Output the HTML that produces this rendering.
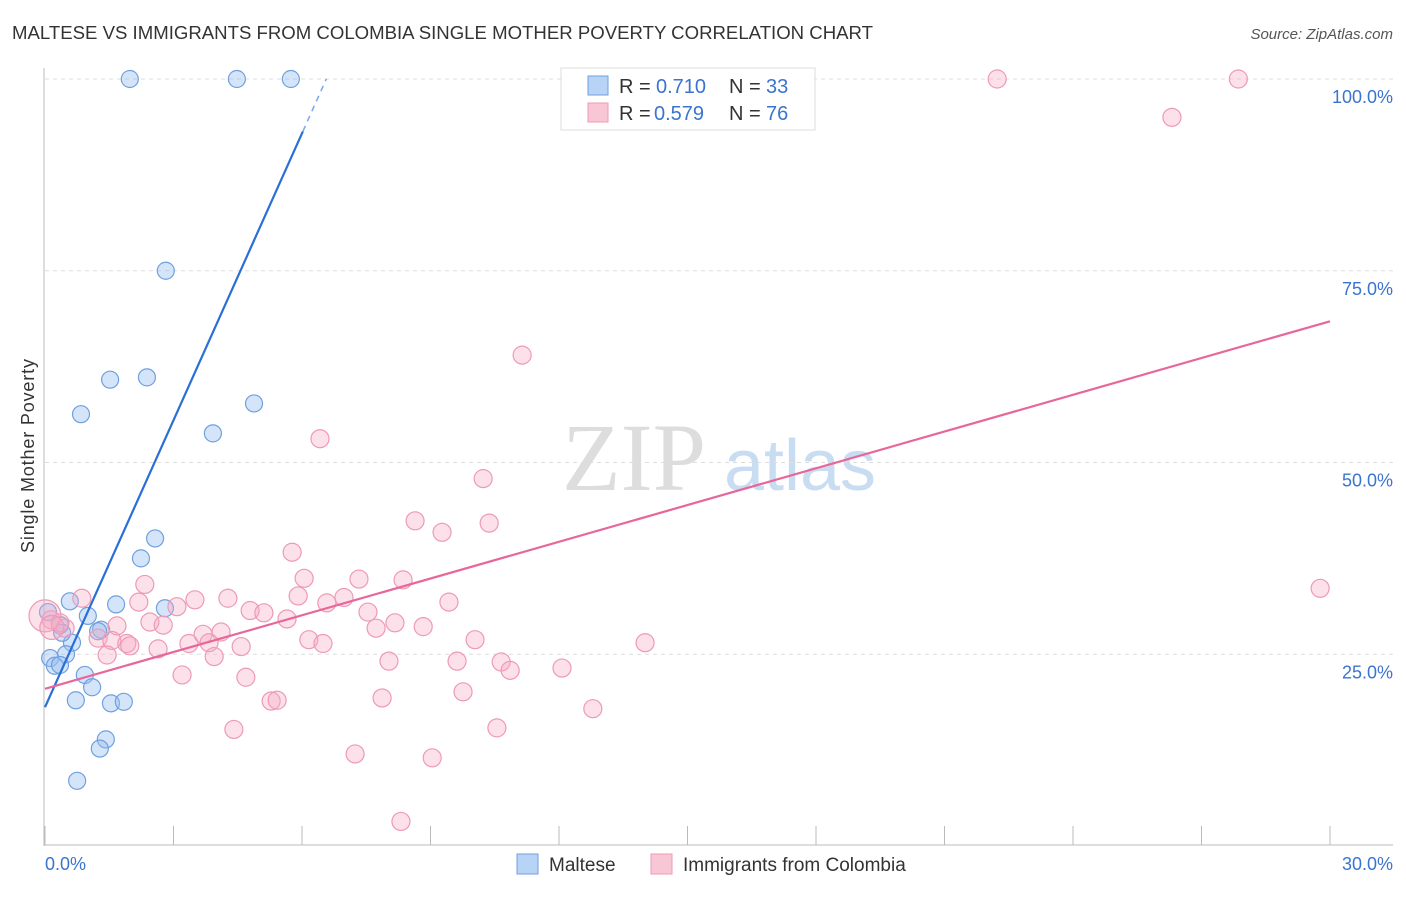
<!DOCTYPE html>
<html><head><meta charset="utf-8"><style>
body{margin:0;background:#fff;font-family:"Liberation Sans",sans-serif;}
</style></head><body>
<svg id="chart" width="1406" height="892" xmlns="http://www.w3.org/2000/svg" style="font-family:'Liberation Sans',sans-serif">
<text x="12" y="39" font-size="18" fill="#333" textLength="861" lengthAdjust="spacingAndGlyphs">MALTESE VS IMMIGRANTS FROM COLOMBIA SINGLE MOTHER POVERTY CORRELATION CHART</text>
<text x="1393" y="39" font-size="15" fill="#555" font-style="italic" text-anchor="end">Source: ZipAtlas.com</text>
<text x="34" y="456" font-size="18" fill="#333" text-anchor="middle" transform="rotate(-90 34 456)" textLength="194">Single Mother Poverty</text>
<g>
<text x="634" y="490" font-size="96" fill="#ddd" font-family="Liberation Serif,serif" text-anchor="middle">ZIP</text>
<text x="800" y="490" font-size="72" fill="#c8dcf2" text-anchor="middle">atlas</text>
</g>
<g id="grid"></g>
<g id="axes"></g>
<g id="marks"></g>
<g>
<rect x="561" y="68" width="254" height="62" fill="#fff" stroke="#ddd"/>
<rect x="588" y="76" width="20" height="19" fill="#b8d3f5" stroke="#6fa0e0"/>
<rect x="588" y="103" width="20" height="19" fill="#f9c6d5" stroke="#ef9ab3"/>
<text x="619" y="93" font-size="20" fill="#333">R =</text>
<text x="656" y="93" font-size="20" fill="#3a74d0">0.710</text>
<text x="729" y="93" font-size="20" fill="#333">N =</text>
<text x="766" y="93" font-size="20" fill="#3a74d0">33</text>
<text x="619" y="120" font-size="20" fill="#333">R =</text>
<text x="654" y="120" font-size="20" fill="#3a74d0">0.579</text>
<text x="729" y="120" font-size="20" fill="#333">N =</text>
<text x="766" y="120" font-size="20" fill="#3a74d0">76</text>
</g>
<g>
<rect x="517" y="854" width="21" height="20" fill="#b8d3f5" stroke="#6fa0e0"/>
<text x="549" y="871" font-size="19" fill="#333">Maltese</text>
<rect x="651" y="854" width="21" height="20" fill="#f9c6d5" stroke="#ef9ab3"/>
<text x="683" y="871" font-size="19" fill="#333">Immigrants from Colombia</text>
</g>
</svg>
<script>
const xTicks=[0,3,6,9,12,15,18,21,24,27,30];
const yTicks=[25,50,75,100];
const yTickLabels=["25.0%","50.0%","75.0%","100.0%"];
const xTickLabels=["0.0%","30.0%"];
const blueX=[1.98,4.48,5.74,2.82,1.52,2.38,0.84,4.88,3.92,2.57,2.24,0.58,1.66,2.80,1.00,1.31,0.35,1.24,0.63,0.49,0.12,0.23,0.35,0.93,1.10,0.72,1.54,1.84,1.42,1.28,0.75,0.07,0.40];
const blueY=[100,100,100,75.0,60.8,61.1,56.3,57.7,53.8,40.1,37.5,31.9,31.5,31.0,30.0,28.2,28.8,28.0,26.5,25.0,24.5,23.5,23.6,22.3,20.7,19.0,18.6,18.8,13.9,12.7,8.5,30.5,27.8];
const pinkX=[22.23,27.86,26.31,11.14,6.42,10.23,8.64,10.37,9.27,5.77,29.77,2.33,6.05,7.33,8.36,0.86,2.19,3.50,4.27,5.91,6.58,6.98,9.43,3.08,4.79,5.11,7.54,2.45,2.76,1.68,0.14,0.47,0.35,5.65,8.17,8.83,7.73,3.69,4.11,1.24,1.56,1.91,1.98,2.64,3.36,4.58,6.16,6.49,10.04,14.01,3.83,1.45,3.95,8.03,9.62,10.65,10.86,12.07,3.20,4.69,5.28,5.42,7.87,9.76,12.79,4.41,10.55,7.24,9.04,8.31,0.0,0.16];
const pinkY=[100,100,95.0,64.0,53.1,47.9,42.4,42.1,40.9,38.3,33.6,34.1,34.9,34.8,34.7,32.3,31.8,32.1,32.3,32.6,31.7,32.4,31.8,31.2,30.7,30.4,30.5,29.2,28.8,28.7,29.5,28.4,29.1,29.6,29.1,28.6,28.4,27.6,27.9,27.1,26.8,26.4,26.1,25.7,26.4,26.0,26.9,26.4,26.9,26.5,26.5,24.9,24.7,24.1,24.1,24.0,22.9,23.2,22.3,22.0,18.9,19.0,19.3,20.1,17.9,15.2,15.4,12.0,11.5,3.2,30.0,28.5];
const pinkR=pinkX.map((v,i)=>i>=70?(i==70?16:12):9);
const blueTrend=[18.1,12.47,6.02,6.57];
const pinkTrend=[20.5,1.597,30];
const X=v=>45+v/30*1285, Y=v=>846-v/100*767;
const NS="http://www.w3.org/2000/svg";
function mk(parent,tag,attrs){const e=document.createElementNS(NS,tag);for(const k in attrs)e.setAttribute(k,attrs[k]);document.getElementById(parent).appendChild(e);return e;}
yTicks.forEach((t,i)=>{
 let l=mk('grid','line',{x1:45,x2:1393,y1:Y(t),y2:Y(t),stroke:'#ddd','stroke-dasharray':'4,4'});
 
 
 let tx=mk('grid','text',{x:1393,y:Y(t)+24,'font-size':18,fill:'#3a74d0','text-anchor':'end'});
 tx.textContent=yTickLabels[i];
 
 
});
let a1=mk('axes','line',{x1:44,x2:44,y1:68,y2:846,stroke:'#bbb'});


let a2=mk('axes','line',{x1:44,x2:1393,y1:845,y2:845,stroke:'#bbb'});


xTicks.forEach(t=>{
 let l=mk('axes','line',{x1:X(t),x2:X(t),y1:826,y2:845,stroke:'#bbb'});
 
 
});
[[0,'start',45],[30,'end',1393]].forEach((d,i)=>{
 let tx=mk('axes','text',{x:d[2],y:870,'font-size':18,fill:'#3a74d0','text-anchor':d[1]});
 tx.textContent=xTickLabels[i];
 
 
});
blueX.forEach((v,i)=>{
 let c=mk('marks','circle',{cx:X(v),cy:Y(blueY[i]),r:8.5,fill:'rgba(150,190,240,0.4)',stroke:'#6fa0e0','stroke-width':1.2});
 
 
});
pinkX.forEach((v,i)=>{
 let c=mk('marks','circle',{cx:X(v),cy:Y(pinkY[i]),r:pinkR[i],fill:'rgba(245,170,195,0.35)',stroke:'#ee9ab4','stroke-width':1.2});
 
 
});
let bt=mk('marks','line',{x1:X(0),y1:Y(blueTrend[0]),x2:X(blueTrend[2]),y2:Y(blueTrend[0]+blueTrend[1]*blueTrend[2]),stroke:'#2a6fd6','stroke-width':2.2});


let bd=mk('marks','line',{x1:X(blueTrend[2]),y1:Y(blueTrend[0]+blueTrend[1]*blueTrend[2]),x2:X(blueTrend[3]),y2:Y(blueTrend[0]+blueTrend[1]*blueTrend[3]),stroke:'#7aa6e6','stroke-width':1.5,'stroke-dasharray':'6,5'});


let pt=mk('marks','line',{x1:X(0),y1:Y(pinkTrend[0]),x2:X(pinkTrend[2]),y2:Y(pinkTrend[0]+pinkTrend[1]*pinkTrend[2]),stroke:'#e8679a','stroke-width':2.2});


</script>
</body></html>
